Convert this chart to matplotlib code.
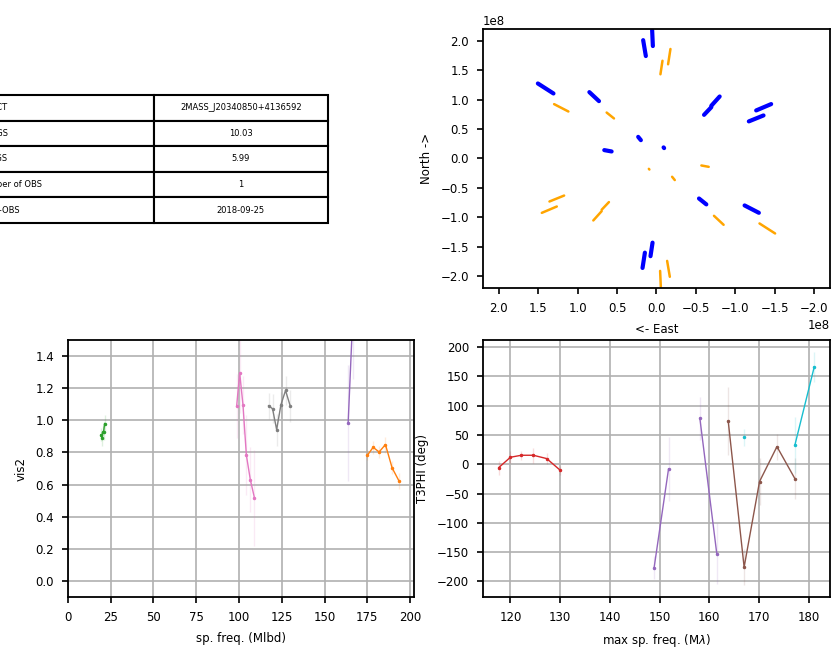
import numpy as np
import matplotlib
matplotlib.use("Agg")
import matplotlib.pyplot as plt
from matplotlib.table import Table

plt.rcParams["font.size"] = 8.5
plt.rcParams["axes.linewidth"] = 1.3
plt.rcParams["axes.labelpad"] = 5.5
plt.rcParams["xtick.major.size"] = 4.3
plt.rcParams["ytick.major.size"] = 4.3
plt.rcParams["xtick.major.width"] = 1.2
plt.rcParams["ytick.major.width"] = 1.2
plt.rcParams["xtick.major.pad"] = 5.8
plt.rcParams["ytick.major.pad"] = 5.8
plt.rcParams["grid.linewidth"] = 1.2

# header table
row_labels = ["OBJECT", "HMAGS", "KMAGS", "Number of OBS", "DATE-OBS"]
row_values = ["2MASS_J20340850+4136592", "10.03", "5.99", "1", "2018-09-25"]

# uv coverage, segments in units of 1e8 (u start/end, v start/end)
uv_scale = 1e8
u0 = [0.169, 0.055, 1.504, 0.851, 0.662, 0.232, -0.090, -0.603, -0.695, -1.264, -1.171, -0.539, -1.117, 0.177, 0.076]
v0 = [2.010, 2.180, 1.274, 1.127, 0.142, 0.367, 0.188, 0.741, 0.895, 0.816, 0.630, -0.680, -0.798, -1.860, -1.660]
u1 = [0.135, 0.046, 1.306, 0.729, 0.569, 0.198, -0.097, -0.695, -0.801, -1.454, -1.357, -0.632, -1.298, 0.147, 0.050]
v1 = [1.740, 1.910, 1.104, 0.974, 0.119, 0.311, 0.176, 0.871, 1.053, 0.924, 0.731, -0.780, -0.923, -1.600, -1.430]

# squared visibilities per baseline
vis2_x = {
    "tab:green": [19.3, 19.8, 20.2, 20.8, 21.4],
    "tab:pink": [98.6, 100.4, 102.3, 104.3, 106.6, 109.0],
    "tab:gray": [117.3, 119.6, 122.0, 124.5, 127.2, 130.0],
    "tab:purple": [163.8, 166.8],
    "tab:orange": [175.1, 178.4, 181.9, 185.6, 189.5, 193.4],
}
vis2_y = {
    "tab:green": [0.91, 0.89, 0.925, 0.925, 0.98],
    "tab:pink": [1.087, 1.294, 1.097, 0.783, 0.631, 0.518],
    "tab:gray": [1.091, 1.072, 0.942, 1.097, 1.186, 1.087],
    "tab:purple": [0.983, 1.72],
    "tab:orange": [0.783, 0.832, 0.803, 0.849, 0.704, 0.625],
}
vis2_err = {
    "tab:green": [0.04, 0.05, 0.04, 0.05, 0.05],
    "tab:pink": [0.2, 0.25, 0.18, 0.25, 0.2, 0.3],
    "tab:gray": [0.08, 0.09, 0.1, 0.08, 0.09, 0.1],
    "tab:purple": [0.36, 0.46],
    "tab:orange": [0.03, 0.04, 0.04, 0.05, 0.04, 0.05],
}

# closure phases per triangle
t3_colors = ["tab:red", "tab:purple", "tab:purple", "tab:brown", "tab:cyan", "tab:cyan"]
t3_x = [
    [117.65, 120.0, 122.2, 124.6, 127.3, 130.0],
    [148.9, 151.8],
    [158.1, 161.5],
    [163.8, 167.0, 170.1, 173.6, 177.2],
    [167.0],
    [177.2, 181.1],
]
t3_y = [
    [-5.7, 11.9, 15.3, 15.3, 9.6, -10.2],
    [-176.4, -7.9],
    [78.3, -152.6],
    [73.7, -175.6, -29.5, 30.0, -24.4],
    [45.9],
    [32.3, 166.0],
]
t3_err = [
    [12, 10, 8, 13, 10, 8],
    [20, 55],
    [37, 52],
    [58, 31, 40, 22, 35],
    [15],
    [48, 26],
]

fig = plt.figure(figsize=(8.33, 6.48), dpi=100)

# table (top left)
ax0 = fig.add_axes([0.0816, 0.5556, 0.4154, 0.3997])
ax0.axis("off")
tab = Table(ax0, bbox=[-0.32, 0.251, 1.071, 0.494])
nrows = len(row_labels)
for i, (lab, val) in enumerate(zip(row_labels, row_values)):
    c = tab.add_cell(i, 0, width=0.5306, height=1.0 / nrows, text=lab, loc="left")
    c.set_linewidth(1.5)
    c = tab.add_cell(i, 1, width=0.4694, height=1.0 / nrows, text=val, loc="center")
    c.set_linewidth(1.5)
tab.auto_set_font_size(False)
tab.set_fontsize(6)
ax0.add_table(tab)

# uv plane (top right)
ax1 = fig.add_axes([0.5798, 0.5556, 0.4166, 0.3997])
for a, b, c, d in zip(u0, v0, u1, v1):
    ax1.plot(np.array([a, c]) * uv_scale, np.array([b, d]) * uv_scale, color="blue",
             lw=3, solid_capstyle="round")
    ax1.plot(-np.array([a, c]) * uv_scale, -np.array([b, d]) * uv_scale, color="orange",
             lw=1.8, solid_capstyle="round")
ax1.set_xlim(2.2e8, -2.2e8)
ax1.set_ylim(-2.2e8, 2.2e8)
ax1.set_xlabel("<- East")
ax1.set_ylabel("North ->")

# vis2 (bottom left)
ax2 = fig.add_axes([0.0816, 0.0787, 0.4154, 0.3966])
for col in vis2_x:
    ax2.errorbar(vis2_x[col], vis2_y[col], yerr=vis2_err[col], fmt="none",
                 ecolor=col, alpha=0.15, elinewidth=1)
    ax2.plot(vis2_x[col], vis2_y[col], ".-", color=col, lw=1, ms=3)
ax2.set_xlim(0, 202.3)
ax2.set_ylim(-0.1, 1.5)
ax2.set_xticks(np.arange(0, 201, 25))
ax2.set_yticks(np.arange(0, 1.41, 0.2))
ax2.grid(True)
ax2.set_xlabel("sp. freq. (Mlbd)")
ax2.set_ylabel("vis2")

# closure phase (bottom right)
ax3 = fig.add_axes([0.5798, 0.0787, 0.4166, 0.3966])
for col, x, y, e in zip(t3_colors, t3_x, t3_y, t3_err):
    ax3.errorbar(x, y, yerr=e, fmt="none", ecolor=col, alpha=0.15, elinewidth=1)
    ax3.plot(x, y, ".-", color=col, lw=1, ms=3)
ax3.set_yticks(np.arange(-200, 201, 50))
ax3.set_xticks(np.arange(120, 181, 10))
ax3.grid(True)
ax3.set_xlabel(r"max sp. freq. (M$\lambda$)")
ax3.set_ylabel("T3PHI (deg)")

fig.savefig("out.png", dpi=100)
